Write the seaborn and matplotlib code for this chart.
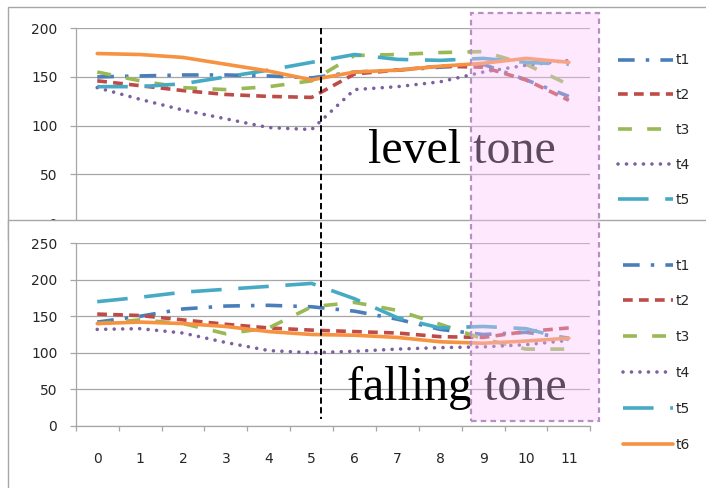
import matplotlib
matplotlib.use("Agg")
import matplotlib.pyplot as plt
from matplotlib.patches import Rectangle
from matplotlib.lines import Line2D
import numpy as np
import pandas as pd
import seaborn as sns

# ---------------- data ----------------
x_vals = list(range(12))
series = ["t1", "t2", "t3", "t4", "t5", "t6"]

# level tone (top panel)
level_t1 = [150, 151, 152, 152, 151, 149, 155, 157, 160, 163, 147, 130]
level_t2 = [146, 141, 136, 132, 130, 129, 153, 157, 161, 160, 147, 126]
level_t3 = [155, 146, 139, 137, 140, 146, 172, 173, 175, 176, 163, 142]
level_t4 = [139, 127, 116, 107, 98, 96, 137, 140, 145, 155, 162, 167]
level_t5 = [140, 140, 143, 150, 157, 165, 173, 168, 167, 169, 165, 163]
level_t6 = [174, 173, 170, 163, 156, 147, 155, 157, 161, 164, 169, 165]

# falling tone (bottom panel)
fall_t1 = [142, 150, 160, 164, 165, 163, 157, 146, 132, 125, 128, 120]
fall_t2 = [153, 151, 145, 139, 134, 131, 129, 127, 122, 121, 129, 134]
fall_t3 = [140, 145, 140, 126, 134, 163, 169, 158, 139, 119, 105, 105]
fall_t4 = [132, 133, 127, 114, 103, 100, 102, 105, 107, 108, 111, 117]
fall_t5 = [170, 176, 183, 187, 191, 195, 174, 148, 134, 136, 133, 118]
fall_t6 = [140, 142, 140, 136, 129, 125, 124, 121, 115, 113, 116, 120]

top_yticks = [0, 50, 100, 150, 200]
bot_yticks = [0, 50, 100, 150, 200, 250]
top_label = "level tone"
bot_label = "falling tone"

# ---------------- style ----------------
sns.set_style("white")
plt.rcParams["font.family"] = ["DejaVu Sans"]
plt.rcParams["lines.scale_dashes"] = False

colors = {"t1": "#4a7ebb", "t2": "#be4b48", "t3": "#98b954",
          "t4": "#7d60a0", "t5": "#46aac5", "t6": "#f69240"}
dashes = {"t1": (12, 8, 2.5, 8), "t2": (7, 4.5), "t3": (10, 11),
          "t4": (0.01, 6.1), "t5": (22, 12), "t6": ""}
GRID = "#a6a6a6"
TXT = "#262626"

W, H = 706, 488
fig = plt.figure(figsize=(W / 100, H / 100), dpi=100)


def rect_px(x0, y0, x1, y1):
    return [x0 / W, 1 - y1 / H, (x1 - x0) / W, (y1 - y0) / H]


def long_df(vals):
    return pd.DataFrame({
        "x": np.tile(x_vals, len(series)),
        "value": np.concatenate(vals),
        "series": np.repeat(series, len(x_vals)),
    })


def draw(ax, df, ymax, yticks):
    sns.lineplot(data=df, x="x", y="value", hue="series", style="series",
                 palette=colors, dashes=dashes, linewidth=2.6,
                 estimator=None, legend=False, ax=ax)
    for line, name in zip(ax.lines, series):
        line.set_dash_capstyle("round" if name == "t4" else "butt")
        line.set_solid_capstyle("round")
    ax.set_xlim(-0.5, 11.5)
    ax.set_ylim(0, ymax)
    ax.set_yticks(yticks)
    ax.set_xlabel("")
    ax.set_ylabel("")
    ax.set_axisbelow(True)
    ax.grid(axis="y", color=GRID, linewidth=0.9)
    ax.grid(axis="x", visible=False)
    for s in ["top", "right"]:
        ax.spines[s].set_visible(False)
    ax.spines["left"].set_color(GRID)
    ax.spines["left"].set_linewidth(0.9)
    ax.spines["bottom"].set_color(GRID)
    ax.spines["bottom"].set_linewidth(0.9)
    ax.tick_params(axis="y", length=4.3, width=0.9, color=GRID, pad=9,
                   labelsize=10, labelcolor=TXT, left=True)


# ---- frames ----
tf = rect_px(7.5, 7.5, 730, 240)
fig.add_artist(Rectangle(tf[:2], tf[2], tf[3], transform=fig.transFigure,
                         facecolor="white", edgecolor=GRID, linewidth=1, zorder=0.5))
bf = rect_px(7.5, 220, 730, 520)
fig.add_artist(Rectangle(bf[:2], bf[2], bf[3], transform=fig.transFigure,
                         facecolor="white", edgecolor=GRID, linewidth=1, zorder=2))

# ---- top panel ----
ax_top = fig.add_axes(rect_px(75.8, 28.2, 590.3, 223.1))
ax_top.set_zorder(1)
draw(ax_top, long_df([level_t1, level_t2, level_t3, level_t4, level_t5, level_t6]),
     200, top_yticks)
ax_top.spines["bottom"].set_visible(False)
ax_top.tick_params(axis="x", bottom=False, labelbottom=False)
ax_top.legend(ax_top.lines[:5], series[:5], loc="upper left",
              bbox_to_anchor=(618 / W, 1 - 53.5 / H), bbox_transform=fig.transFigure,
              frameon=False, fontsize=10, handlelength=3.95, handletextpad=0.2,
              labelspacing=1.5, borderpad=0, borderaxespad=0, labelcolor=TXT)

# ---- bottom panel ----
ax_bot = fig.add_axes(rect_px(75.8, 243.3, 590.3, 425.7))
ax_bot.set_zorder(3)
draw(ax_bot, long_df([fall_t1, fall_t2, fall_t3, fall_t4, fall_t5, fall_t6]),
     250, bot_yticks)
ax_bot.set_xticks(x_vals)
ax_bot.set_xticks(np.arange(-0.5, 12, 1), minor=True)
ax_bot.tick_params(axis="x", which="major", length=0, pad=19, labelsize=10,
                   labelcolor=TXT, bottom=True)
ax_bot.tick_params(axis="x", which="minor", length=3.6, width=0.9, color=GRID,
                   bottom=True)
ax_bot.legend(ax_bot.lines, series, loc="upper left",
              bbox_to_anchor=(623 / W, 1 - 258.5 / H), bbox_transform=fig.transFigure,
              frameon=False, fontsize=10, handlelength=3.6, handletextpad=0.2,
              labelspacing=1.57, borderpad=0, borderaxespad=0, labelcolor=TXT)

# ---- annotations ----
fig.text(368 / W, 1 - 162.7 / H, top_label, fontsize=34.5, family="Liberation Serif",
         va="baseline", ha="left", color="black", zorder=4)
fig.text(347 / W, 1 - 400 / H, bot_label, fontsize=34.5, family="Liberation Serif",
         va="baseline", ha="left", color="black", zorder=4)

fig.add_artist(Line2D([321 / W, 321 / W], [1 - 28 / H, 1 - 419 / H],
                      transform=fig.transFigure, color="black", linewidth=1.4,
                      dashes=(4.5, 2.5), zorder=5))

pr = rect_px(471, 13, 599, 421)
fig.add_artist(Rectangle(pr[:2], pr[2], pr[3], transform=fig.transFigure,
                         facecolor=(0.98, 0.77, 0.98, 0.38),
                         edgecolor=(0.72, 0.56, 0.77, 1.0), linewidth=1.6,
                         linestyle=(0, (4, 3)), zorder=6))

fig.savefig("out.png", dpi=100)
